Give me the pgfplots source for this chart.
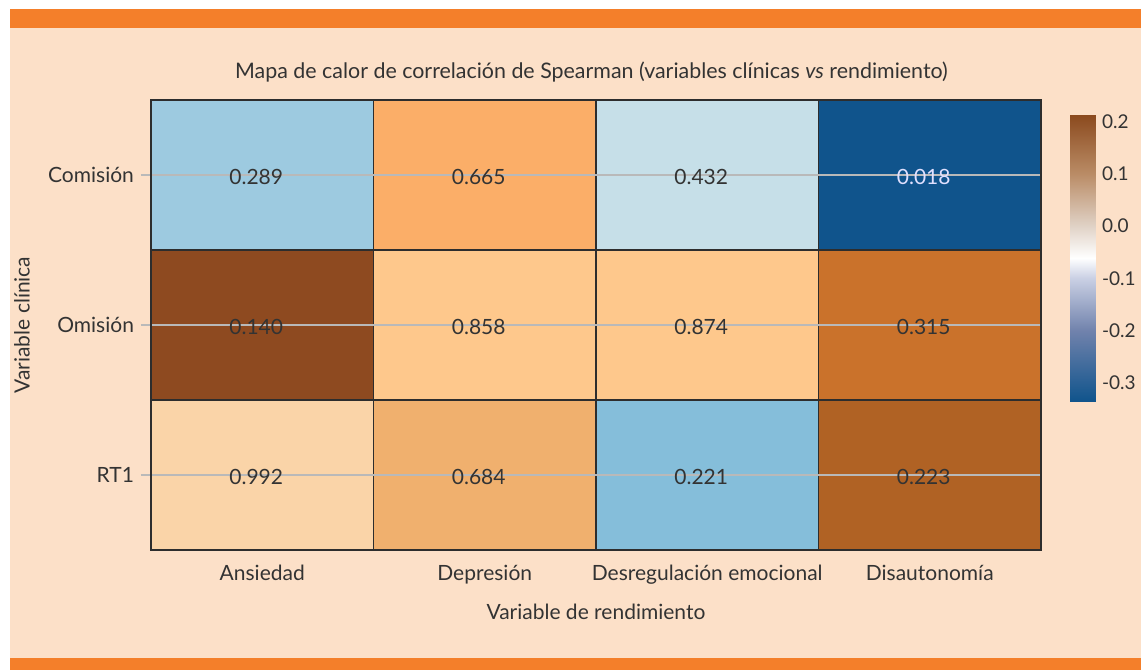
\documentclass[border=0pt]{standalone}
\usepackage{pgfplots}
\pgfplotsset{compat=1.18}
\usepackage{fontspec}
\setmainfont{Lato}
\definecolor{peach}{RGB}{252,224,200}
\definecolor{barorange}{RGB}{244,127,42}
\definecolor{txt}{RGB}{51,51,51}
\definecolor{gridgrey}{RGB}{185,185,185}
\definecolor{cellline}{RGB}{45,45,45}
\pgfplotsset{
  colormap={cellmap}{rgb255(0pt)=(16,84,140) rgb255(135pt)=(133,190,218) rgb255(165pt)=(157,202,224) rgb255(235pt)=(198,223,232) rgb255(335pt)=(250,212,168) rgb255(365pt)=(254,200,140) rgb255(395pt)=(240,176,110) rgb255(405pt)=(251,174,104) rgb255(475pt)=(202,114,43) rgb255(505pt)=(176,98,36) rgb255(548pt)=(142,74,32)},
  colormap={barmap}{rgb255(0pt)=(16,84,140) rgb255(135pt)=(112,130,172) rgb255(235pt)=(202,208,228) rgb255(274pt)=(255,255,255) rgb255(335pt)=(224,210,198) rgb255(435pt)=(186,140,102) rgb255(548pt)=(139,74,30)}
}
\begin{document}
\begin{tikzpicture}
\fill[white] (-75.5pt,-60pt) rectangle (495pt,275pt);
\fill[peach] (-70.5pt,-60pt) rectangle (495pt,270.5pt);
\fill[barorange] (-70.5pt,261pt) rectangle (495pt,270.5pt);
\fill[barorange] (-70.5pt,-60pt) rectangle (495pt,-54pt);
\begin{axis}[
  at={(0pt,0pt)}, anchor=south west,
  scale only axis, width=445pt, height=225pt,
  xmin=-0.5, xmax=3.5, ymin=-0.5, ymax=2.5, y dir=reverse,
  xtick={0,1,2,3},
  xticklabels={Ansiedad,Depresión,Desregulación emocional,Disautonomía},
  ytick={0,1,2}, yticklabels={Comisión,Omisión,RT1},
  minor xtick={0.5,1.5,2.5}, minor ytick={0.5,1.5},
  xminorgrids, yminorgrids, ymajorgrids,
  minor grid style={cellline, line width=0.75pt},
  major grid style={gridgrey, line width=0.75pt},
  minor tick length=0pt,
  xtick style={draw=none},
  ytick pos=left, tick align=outside, major tick length=5pt,
  ytick style={draw=gridgrey, line width=0.75pt},
  axis line style={cellline, line width=0.9pt},
  axis on top,
  colormap name=cellmap, point meta min=-0.335, point meta max=0.213,
  tick label style={font=\fontsize{10.5}{12}\selectfont, text=txt},
  xticklabel style={yshift=1pt},
  title={Mapa de calor de correlación de Spearman (variables clínicas \textit{vs} rendimiento)},
  title style={font=\fontsize{10.7}{12}\selectfont, text=txt, at={(axis description cs:0.5,1)}, anchor=center, yshift=8pt, xshift=-2.25pt},
  xlabel={Variable de rendimiento},
  xlabel style={font=\fontsize{10.5}{12}\selectfont, text=txt, at={(axis description cs:0.5,0)}, anchor=center, yshift=-30.75pt},
  ylabel={Variable clínica},
  ylabel style={font=\fontsize{10.5}{12}\selectfont, text=txt, at={(axis description cs:0,0.5)}, anchor=center, yshift=64.5pt},
]
\addplot[matrix plot*, mesh/cols=4, point meta=explicit] coordinates {
  (0,0) [-0.17] (1,0) [0.07] (2,0) [-0.10] (3,0) [-0.335]
  (0,1) [0.213] (1,1) [0.03] (2,1) [0.03] (3,1) [0.14]
  (0,2) [0.00] (1,2) [0.06] (2,2) [-0.20] (3,2) [0.17]
};
\addplot[only marks, mark=*, mark size=0pt, mark options={draw=none,fill=none},
  point meta=explicit symbolic, nodes near coords,
  every node near coord/.append style={anchor=center, xshift=-3pt, yshift=-1pt, font=\fontsize{10.5}{12}\selectfont, text=txt}]
  coordinates {
  (0,0) [0.289] (1,0) [0.665] (2,0) [0.432]
  (0,1) [0.140] (1,1) [0.858] (2,1) [0.874] (3,1) [0.315]
  (0,2) [0.992] (1,2) [0.684] (2,2) [0.221] (3,2) [0.223]
};
\addplot[only marks, mark=*, mark size=0pt, mark options={draw=none,fill=none},
  point meta=explicit symbolic, nodes near coords,
  every node near coord/.append style={anchor=center, xshift=-3pt, yshift=-1pt, font=\fontsize{10.5}{12}\selectfont, text=white!88!blue}]
  coordinates {(3,0) [0.018]};
\end{axis}
\begin{axis}[
  at={(459.5pt,74.5pt)}, anchor=south west,
  scale only axis, width=12.5pt, height=143pt,
  xmin=0, xmax=1, ymin=-0.335, ymax=0.213,
  axis line style={draw=none},
  xtick=\empty,
  ytick={-0.3,-0.2,-0.1,0,0.1,0.2},
  yticklabel pos=right,
  ytick style={draw=none},
  yticklabel style={font=\fontsize{9.5}{11}\selectfont, text=txt, /pgf/number format/fixed, /pgf/number format/fixed zerofill, /pgf/number format/precision=1, /pgf/number format/assume math mode=true},
  colormap name=barmap, point meta min=-0.335, point meta max=0.213,
]
\addplot[surf, shader=interp, mesh/cols=2, point meta=explicit] coordinates {
  (0,-0.335) [-0.335] (1,-0.335) [-0.335]
  (0,-0.2) [-0.2] (1,-0.2) [-0.2]
  (0,-0.1) [-0.1] (1,-0.1) [-0.1]
  (0,-0.061) [-0.061] (1,-0.061) [-0.061]
  (0,0) [0] (1,0) [0]
  (0,0.1) [0.1] (1,0.1) [0.1]
  (0,0.213) [0.213] (1,0.213) [0.213]
};
\end{axis}
\pgfresetboundingbox
\useasboundingbox (-75.5pt,-60pt) rectangle (495pt,275pt);
\end{tikzpicture}
\end{document}
